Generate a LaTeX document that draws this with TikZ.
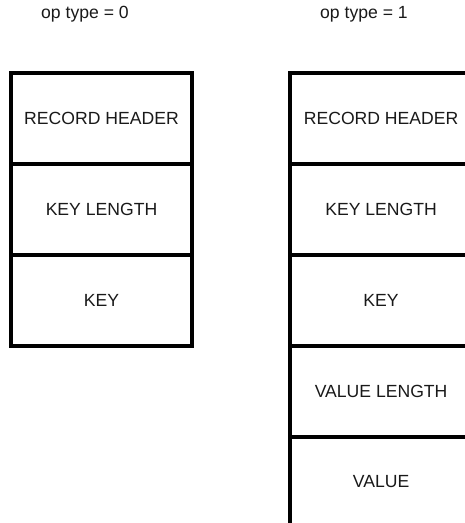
\documentclass[tikz,border=0pt]{standalone}
\usepackage{fontspec}
\setmainfont{Liberation Sans}
\begin{document}
\begin{tikzpicture}[x=1pt,y=-1pt,
  cell/.style={draw=black, line width=4pt, rectangle, minimum width=181.6pt, minimum height=91pt, inner sep=0pt, outer sep=0pt, font=\fontsize{17.6}{20}\selectfont, text=black!90},
  oplabel/.style={anchor=base, inner sep=0pt, font=\fontsize{17.6}{20}\selectfont, text=black!90}]
\useasboundingbox (0,0) rectangle (465,523);
\clip (0,0) rectangle (465,523);
% labels
\node[oplabel] (l0) at (85,18.3) {op type = 0};
\node[oplabel] (l1) at (364,18.3) {op type = 1};
% left column
\node[cell] (a1) at (101.5,118.8) {RECORD HEADER};
\node[cell] (a2) at (101.5,209.8) {KEY LENGTH};
\node[cell] (a3) at (101.5,300.6) {KEY};
% right column
\node[cell] (b1) at (381.1,118.8) {RECORD HEADER};
\node[cell] (b2) at (381.1,209.8) {KEY LENGTH};
\node[cell] (b3) at (381.1,300.6) {KEY};
\node[cell] (b4) at (381.1,391.2) {VALUE LENGTH};
\node[cell] (b5) at (381.1,482) {VALUE};
\end{tikzpicture}
\end{document}
